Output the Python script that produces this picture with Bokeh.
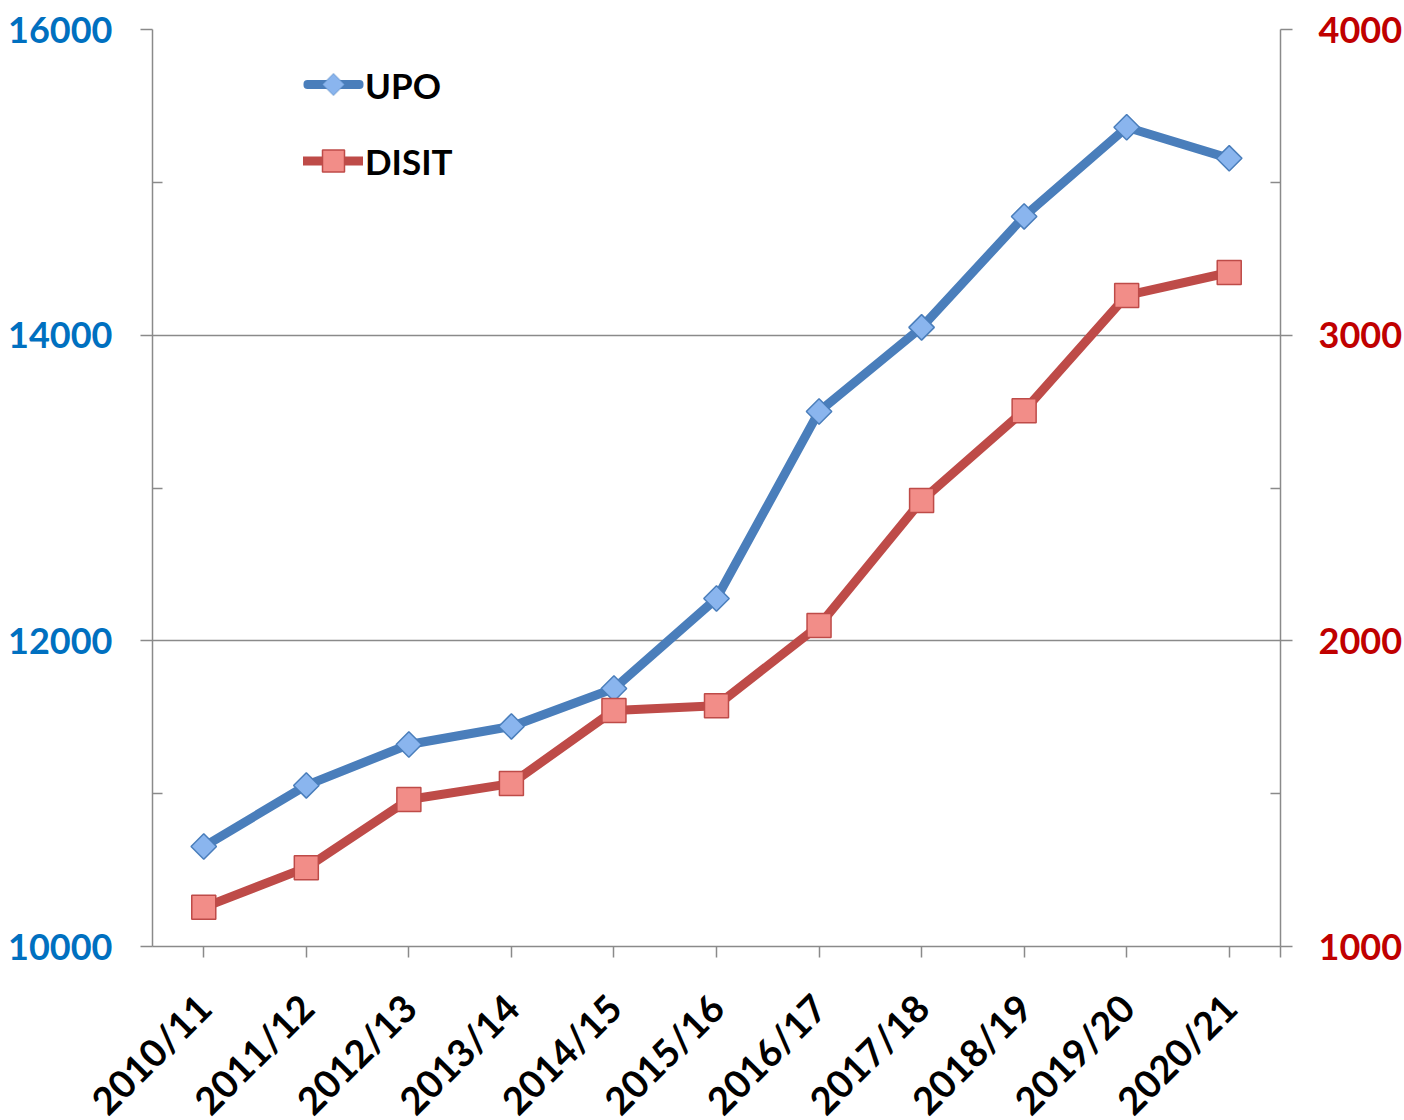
import math
from bokeh.plotting import figure
from bokeh.models import (Range1d, LinearAxis, FixedTicker, Legend, LegendItem,
                          PolyAnnotation, BoxAnnotation)
from bokeh.embed import file_html
from bokeh.resources import INLINE

years = ["2010/11", "2011/12", "2012/13", "2013/14", "2014/15", "2015/16",
         "2016/17", "2017/18", "2018/19", "2019/20", "2020/21"]
upo = [10654, 11054, 11322, 11440, 11688, 12277, 13501, 14051, 14777, 15360, 15157]
disit = [1128, 1258, 1481, 1533, 1772, 1788, 2050, 2459, 2753, 3130, 3205]
left_ticks = [10000, 12000, 14000, 16000]
left_minor = [11000, 13000, 15000]
right_ticks = [1000, 2000, 3000, 4000]
right_minor = [1500, 2500, 3500]

xs = list(range(len(years)))
FONT = "Lato"
GRAY = "#8a8a8a"
BLUE_LINE = "#4A7EBB"
BLUE_FILL = "#8AB5EE"
RED_LINE = "#BE4B48"
RED_FILL = "#F28D88"

p = figure(frame_width=1128, frame_height=917,
           x_range=Range1d(-0.5, len(years) - 0.5),
           y_range=Range1d(10000, 16000),
           output_backend="svg", toolbar_location=None,
           min_border_left=152, min_border_top=29,
           min_border_right=122, min_border_bottom=170)
p.extra_y_ranges = {"right": Range1d(1000, 4000)}
p.outline_line_color = None
p.background_fill_color = "white"
p.border_fill_color = "white"
p.xgrid.visible = False
p.ygrid.ticker = FixedTicker(ticks=left_ticks)
p.ygrid.grid_line_color = GRAY
p.ygrid.grid_line_width = 1.5


def style_axis(ax):
    ax.axis_line_color = GRAY
    ax.axis_line_width = 1.5
    ax.major_tick_line_color = GRAY
    ax.major_tick_line_width = 1.5
    ax.minor_tick_line_color = GRAY
    ax.minor_tick_line_width = 1.5
    ax.major_label_text_font = FONT
    ax.major_label_text_font_style = "bold"


# left axis
ya = p.yaxis[0]
ya.ticker = FixedTicker(ticks=left_ticks, minor_ticks=left_minor)
style_axis(ya)
ya.major_tick_in = 0
ya.major_tick_out = 12
ya.minor_tick_in = 10
ya.minor_tick_out = 0
ya.major_label_text_font_size = "36px"
ya.major_label_text_color = "#0070C0"
ya.major_label_standoff = 28

# right axis
ra = LinearAxis(y_range_name="right",
                ticker=FixedTicker(ticks=right_ticks, minor_ticks=right_minor))
style_axis(ra)
ra.major_tick_in = 0
ra.major_tick_out = 12
ra.minor_tick_in = 10
ra.minor_tick_out = 0
ra.major_label_text_font_size = "36px"
ra.major_label_text_color = "#C00000"
ra.major_label_standoff = 26
p.add_layout(ra, "right")

# x axis
xa = p.xaxis[0]
xa.ticker = FixedTicker(ticks=xs, minor_ticks=[len(years) - 0.5])
xa.major_label_overrides = {i: y for i, y in enumerate(years)}
xa.major_label_orientation = math.pi / 4
style_axis(xa)
xa.major_tick_in = 0
xa.major_tick_out = 11
xa.minor_tick_in = 0
xa.minor_tick_out = 11
xa.major_label_text_font_size = "38px"
xa.major_label_text_color = "black"
xa.major_label_standoff = 43

# series
l1 = p.line(xs, upo, line_color=BLUE_LINE, line_width=9, line_join="round", line_cap="round")
m1 = p.scatter(xs, upo, marker="square", size=18, angle=math.pi / 4,
               fill_color=BLUE_FILL, line_color=BLUE_LINE, line_width=1.5)
l2 = p.line(xs, disit, y_range_name="right", line_color=RED_LINE, line_width=9,
            line_join="round", line_cap="round")
m2 = p.scatter(xs, disit, y_range_name="right", marker="square", size=24,
               fill_color=RED_FILL, line_color=RED_LINE, line_width=1.5)
# invisible stand-in so the UPO legend row keeps its label; its symbol is drawn below
l1_key = p.line(xs, upo, line_alpha=0)

legend = Legend(items=[LegendItem(label="UPO", renderers=[l1_key]),
                       LegendItem(label="DISIT", renderers=[l2, m2])],
                location=(151, 758))
legend.background_fill_alpha = 0
legend.border_line_color = None
legend.padding = 0
legend.margin = 0
legend.glyph_width = 60
legend.glyph_height = 55
legend.label_height = 55
legend.spacing = 21
legend.label_standoff = 2
legend.label_text_font = FONT
legend.label_text_font_style = "bold"
legend.label_text_font_size = "35px"
legend.label_text_color = "black"
p.add_layout(legend, "center")

# UPO legend symbol: line with an upright diamond (legend glyphs cannot be rotated)
cx, cy, r = 333, 84, 11
p.add_layout(BoxAnnotation(left=303, right=363, top=cy - 4.5, bottom=cy + 4.5,
                           left_units="canvas", right_units="canvas",
                           top_units="canvas", bottom_units="canvas",
                           fill_color=BLUE_LINE, fill_alpha=1, line_color=None,
                           border_radius=4, level="overlay", editable=False))
p.add_layout(PolyAnnotation(xs=[cx, cx + r, cx, cx - r], ys=[cy - r, cy, cy + r, cy],
                            xs_units="canvas", ys_units="canvas", level="overlay",
                            fill_color=BLUE_FILL, fill_alpha=1,
                            line_color=BLUE_LINE, line_width=1.5))

open("out.html", "w").write(file_html(p, INLINE))
